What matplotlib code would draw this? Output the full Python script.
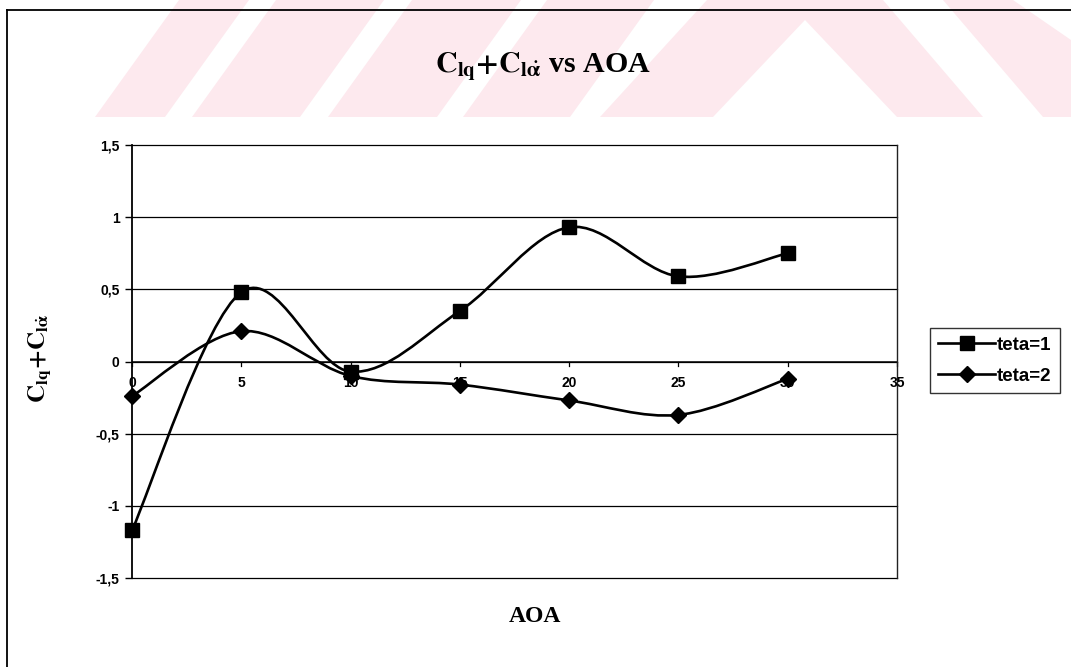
import numpy as np
import matplotlib
matplotlib.use("Agg")
import matplotlib.pyplot as plt
from matplotlib.path import Path
from matplotlib.patches import PathPatch, Polygon
from matplotlib.lines import Line2D

# ---- data ----
aoa = [0, 5, 10, 15, 20, 25, 30]
teta1 = [-1.17, 0.48, -0.07, 0.35, 0.93, 0.59, 0.75]
teta2 = [-0.24, 0.21, -0.10, -0.16, -0.27, -0.37, -0.12]
series_labels = ["teta=1", "teta=2"]
x_ticks = [0, 5, 10, 15, 20, 25, 30, 35]
y_ticks = [-1.5, -1.0, -0.5, 0.0, 0.5, 1.0, 1.5]
y_tick_labels = ["-1,5", "-1", "-0,5", "0", "0,5", "1", "1,5"]

W, H = 1071, 667
plt.rcParams["mathtext.fontset"] = "stix"
fig = plt.figure(figsize=(W / 100, H / 100), dpi=100)
fig.patch.set_facecolor("white")


def px(x, y):
    """pixel position (from top-left) -> figure fraction"""
    return (x / W, 1 - y / H)


# faint background emblem band along the top
pink = "#fde9ee"
stripes = [
    [(95, 117), (165, 117), (249, 0), (179, 0)],
    [(192, 117), (300, 117), (384, 0), (276, 0)],
    [(328, 117), (437, 117), (521, 0), (412, 0)],
    [(463, 117), (570, 117), (654, 0), (547, 0)],
    [(600, 117), (713, 117), (805, 20), (897, 117), (983, 117),
     (883, 0), (707, 0)],
    [(1043, 117), (1113, 117), (1071, 83), (1071, 40), (1013, 0), (943, 0)],
]
for poly in stripes:
    fig.patches.append(Polygon([px(*p) for p in poly], closed=True,
                               transform=fig.transFigure, facecolor=pink,
                               edgecolor="none", zorder=0))

# outer frame (top and left edges)
fig.lines.append(Line2D([7 / W, 1.0], [1 - 10 / H] * 2, transform=fig.transFigure,
                        color="black", lw=1.3))
fig.lines.append(Line2D([7 / W] * 2, [0.0, 1 - 10 / H], transform=fig.transFigure,
                        color="black", lw=1.3))

left, right, top, bottom = 132, 897, 145, 578
ax = fig.add_axes([left / W, 1 - bottom / H, (right - left) / W, (bottom - top) / H])
ax.set_facecolor("none")
ax.set_xlim(0, 35)
ax.set_ylim(-1.5, 1.5)

for s in ["top", "bottom"]:
    ax.spines[s].set_visible(False)
ax.spines["left"].set_linewidth(1.3)
ax.spines["right"].set_linewidth(1.0)
ax.spines["right"].set_color("#222222")

# horizontal gridlines, including the plot-area edges
for yv in y_ticks:
    ax.axhline(yv, color="black", lw=0.9, zorder=1, clip_on=False)

# x axis crossing at zero
ax.axhline(0, color="black", lw=1.1, zorder=1)
ax.set_xticks(x_ticks)
ax.set_yticks(y_ticks)
ax.set_yticklabels(y_tick_labels)
ax.tick_params(axis="y", direction="out", length=5, width=1, pad=4,
               labelsize=10, colors="black")
ax.tick_params(axis="x", direction="out", length=0, pad=0)
for lab in ax.get_yticklabels():
    lab.set_fontfamily("Liberation Sans")
    lab.set_fontweight("bold")
# x tick labels sit just under the zero line
ax.set_xticklabels([])
for xv in x_ticks:
    ax.plot([xv, xv], [0, -0.03], color="black", lw=0.9, clip_on=False, zorder=2)
    ax.text(xv, -0.15, str(xv), ha="center", va="center", fontsize=10,
            fontfamily="Liberation Sans", fontweight="bold", zorder=3)


def smooth_path(xs, ys):
    """Bezier smoothed line through the points (Catmull-Rom style)."""
    pts = np.column_stack([xs, ys]).astype(float)
    n = len(pts)
    verts = [pts[0]]
    codes = [Path.MOVETO]
    for i in range(n - 1):
        p0 = pts[i - 1] if i > 0 else pts[i]
        p1 = pts[i]
        p2 = pts[i + 1]
        p3 = pts[i + 2] if i + 2 < n else pts[i + 1]
        c1 = p1 + (p2 - p0) / 6.0
        c2 = p2 - (p3 - p1) / 6.0
        verts += [c1, c2, p2]
        codes += [Path.CURVE4] * 3
    return Path(verts, codes)


for ys, mk, ms in [(teta1, "s", 9.5), (teta2, "D", 8.5)]:
    ax.add_patch(PathPatch(smooth_path(aoa, ys), facecolor="none",
                           edgecolor="black", lw=1.9, zorder=4, clip_on=False))
    ax.plot(aoa, ys, linestyle="none", marker=mk, markersize=ms,
            color="black", zorder=5, clip_on=False)

# legend
h1 = Line2D([], [], color="black", lw=1.9, marker="s", markersize=9.5)
h2 = Line2D([], [], color="black", lw=1.9, marker="D", markersize=8.5)
leg = fig.legend([h1, h2], series_labels, loc="upper left",
                 bbox_to_anchor=(930 / W, 1 - 328 / H), frameon=True,
                 fancybox=False, edgecolor="black", handlelength=3.0,
                 handletextpad=0.1, borderpad=0.45, labelspacing=0.75,
                 borderaxespad=0,
                 prop={"family": "Liberation Sans", "size": 13.5,
                       "weight": "bold"})
leg.get_frame().set_linewidth(1.0)

# titles
fig.text(543 / W, 1 - 66 / H, r"$\mathbf{C_{lq}{+}C_{l\dot{\alpha}}}$ vs AOA",
         ha="center", va="center", fontsize=21.5, fontfamily="Liberation Serif",
         fontweight="bold")
fig.text(40 / W, 1 - 358 / H, r"$\mathbf{C_{lq}{+}C_{l\dot{\alpha}}}$",
         ha="center", va="center", rotation=90, fontsize=18,
         fontfamily="Liberation Serif", fontweight="bold")
fig.text(535 / W, 1 - 617 / H, "AOA", ha="center", va="center", fontsize=17,
         fontfamily="Liberation Serif", fontweight="bold")

fig.savefig("out.png", dpi=100)
